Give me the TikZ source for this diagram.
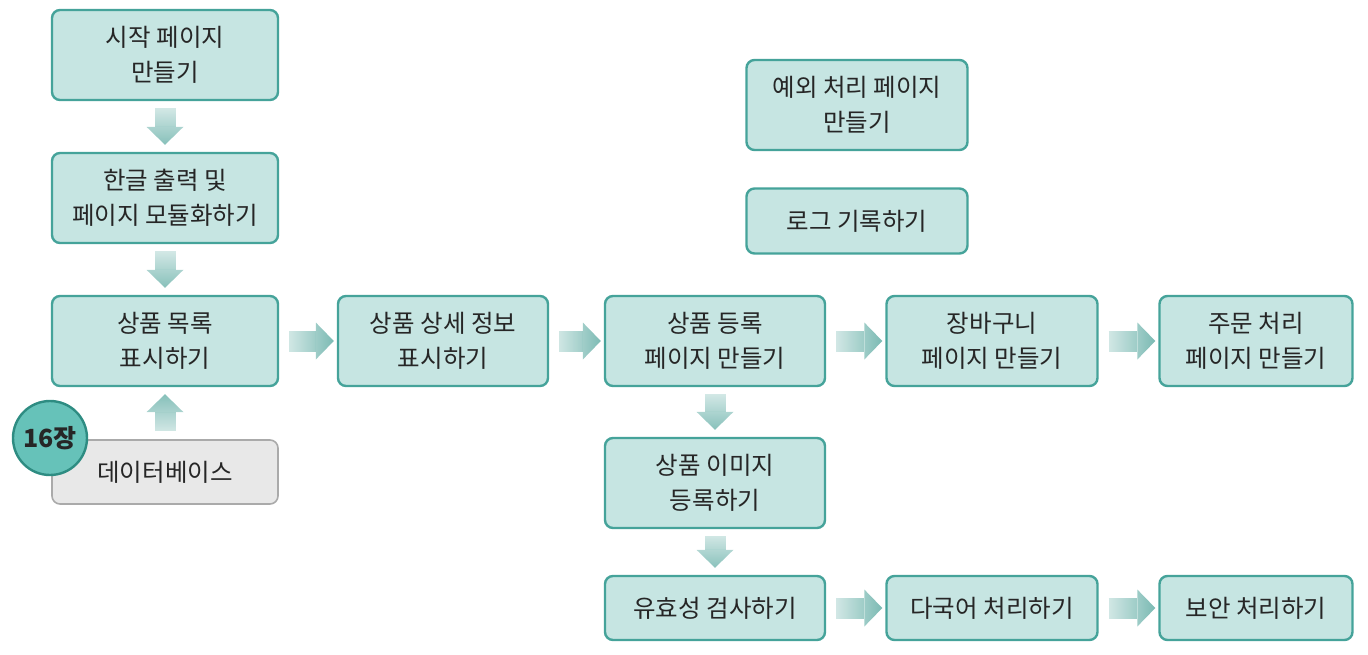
\documentclass[tikz,border=0pt]{standalone}
\usepackage{fontspec}
\setmainfont{Noto Sans CJK KR}
\usetikzlibrary{arrows.meta,fadings}
\definecolor{boxfill}{HTML}{C6E5E2}
\definecolor{boxline}{HTML}{45A39A}
\definecolor{arrowcol}{HTML}{62ADA5}
\definecolor{dbfill}{HTML}{E8E8E8}
\definecolor{dbline}{HTML}{AAAAAA}
\definecolor{chapfill}{HTML}{66C2B9}
\definecolor{chapline}{HTML}{2E8C82}
\definecolor{txt}{HTML}{262626}
% pale tail, solid head
\tikzfading[name=fadeR, left color=transparent!95, middle color=transparent!0, right color=transparent!0]
\tikzfading[name=fadeD, top color=transparent!95, middle color=transparent!0, bottom color=transparent!0]
\tikzfading[name=fadeU, bottom color=transparent!95, middle color=transparent!0, top color=transparent!0]
\tikzstyle{task}=[rectangle,rounded corners=8pt,draw=boxline,fill=boxfill,line width=2.4pt,text=txt,align=center,font=\fontsize{24.5}{35}\selectfont,inner sep=0pt]
\tikzstyle{dbbox}=[task,draw=dbline,fill=dbfill,line width=1.6pt]
\tikzstyle{chap}=[circle,draw=chapline,fill=chapfill,line width=2.4pt,text=txt,minimum size=74pt,inner sep=0pt,font=\fontsize{25}{28}\selectfont\bfseries]
\tikzstyle{flow}=[draw=arrowcol,line width=21pt,-{Triangle[width=37pt,length=18pt,line width=0pt]}]

\begin{document}
\begin{tikzpicture}[x=1pt,y=-1pt]
\useasboundingbox (0,0) rectangle (1368,654);
\node[task,minimum width=226pt,minimum height=90pt] (start) at (165, 55) {시작 페이지\\만들기};
\node[task,minimum width=226pt,minimum height=90pt] (hangul) at (165, 198) {한글 출력 및\\페이지 모듈화하기};
\node[task,minimum width=226pt,minimum height=90pt] (list) at (165, 341) {상품 목록\\표시하기};
\node[dbbox,minimum width=226pt,minimum height=64pt] (db) at (165, 472) {데이터베이스};
\node[chap] (ch16) at (50, 438) {16장};
\node[task,minimum width=210pt,minimum height=90pt] (detail) at (443, 341) {상품 상세 정보\\표시하기};
\node[task,minimum width=220pt,minimum height=90pt] (reg) at (715, 341) {상품 등록\\페이지 만들기};
\node[task,minimum width=211pt,minimum height=90pt] (cart) at (992, 341) {장바구니\\페이지 만들기};
\node[task,minimum width=193pt,minimum height=90pt] (order) at (1256, 341) {주문 처리\\페이지 만들기};
\node[task,minimum width=221pt,minimum height=90pt] (except) at (857, 105) {예외 처리 페이지\\만들기};
\node[task,minimum width=221pt,minimum height=65pt] (log) at (857, 221) {로그 기록하기};
\node[task,minimum width=220pt,minimum height=90pt] (img) at (715, 483) {상품 이미지\\등록하기};
\node[task,minimum width=220pt,minimum height=64pt] (valid) at (715, 608) {유효성 검사하기};
\node[task,minimum width=211pt,minimum height=64pt] (multi) at (992, 608) {다국어 처리하기};
\node[task,minimum width=193pt,minimum height=64pt] (secure) at (1256, 608) {보안 처리하기};
\draw[flow,path fading=fadeD,shorten <=7pt,shorten >=7pt] (start) -- (hangul);
\draw[flow,path fading=fadeD,shorten <=7pt,shorten >=7pt] (hangul) -- (list);
\draw[flow,path fading=fadeU,shorten <=8pt,shorten >=7pt] (db) -- (list);
\draw[flow,path fading=fadeR,shorten <=10pt,shorten >=3pt] (list) -- (detail);
\draw[flow,path fading=fadeR,shorten <=10pt,shorten >=3pt] (detail) -- (reg);
\draw[flow,path fading=fadeR,shorten <=10pt,shorten >=3pt] (reg) -- (cart);
\draw[flow,path fading=fadeR,shorten <=10pt,shorten >=3pt] (cart) -- (order);
\draw[flow,path fading=fadeD,shorten <=7pt,shorten >=7pt] (reg) -- (img);
\draw[flow,path fading=fadeD,shorten <=7pt,shorten >=7pt] (img) -- (valid);
\draw[flow,path fading=fadeR,shorten <=10pt,shorten >=3pt] (valid) -- (multi);
\draw[flow,path fading=fadeR,shorten <=10pt,shorten >=3pt] (multi) -- (secure);
\end{tikzpicture}
\end{document}
